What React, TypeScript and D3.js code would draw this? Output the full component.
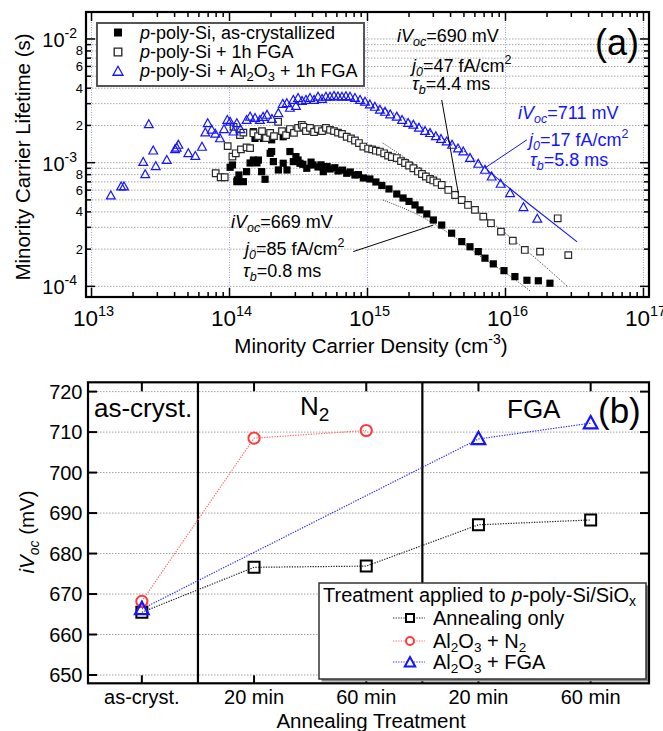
import React from "react";
import * as d3 from "d3";

const FONT = "'Liberation Sans', Arial, Helvetica, sans-serif";
const BLUE = "#1414ff";
const RED = "#ff3a3a";

// ---------- panel (a): lifetime vs minority carrier density ----------
const asCrystDensity = [
  1.01e14, 1.05e14, 1.13e14, 1.14e14, 1.17e14, 1.26e14, 1.33e14, 1.41e14, 1.49e14, 1.49e14,
  1.53e14, 1.58e14, 1.62e14, 1.71e14, 1.76e14, 1.81e14, 1.97e14, 2.02e14, 2.02e14, 2.08e14,
  2.26e14, 2.45e14, 2.45e14, 2.61e14, 2.74e14, 2.9e14, 3.03e14, 3.14e14, 3.24e14, 3.63e14,
  4.03e14, 4.38e14, 4.78e14, 5.35e14, 6.11e14, 7.07e14, 8.11e14, 9.33e14, 1.04e15, 1.15e15,
  1.27e15, 1.43e15, 1.63e15, 1.81e15, 2.0e15, 2.21e15, 2.4e15, 2.69e15, 3.0e15, 3.45e15,
  4.07e15, 4.82e15, 5.53e15, 6.35e15, 7.1e15, 8.16e15, 9.75e15, 1.17e16, 1.43e16, 1.73e16,
  2.1e16, 3.4e14, 3.9e14, 4.6e14, 5.1e14, 5.8e14, 6.6e14, 7.5e14, 8.6e14,
];
const asCrystLifetime = [
  9.18e-4, 9.58e-4, 7.02e-4, 7.25e-4, 7.95e-4, 7.02e-4, 8.46e-4, 9.94e-4, 1.05e-3, 1.78e-3,
  1.57e-3, 9.94e-4, 1.05e-3, 8.46e-4, 1.57e-3, 7.34e-4, 1.19e-3, 1.53e-3, 1.23e-3, 1.02e-3,
  8.73e-4, 1.62e-3, 9.89e-4, 8.73e-4, 1.23e-3, 1.02e-3, 1.12e-3, 1.05e-3, 9.89e-4, 9.01e-4,
  9.58e-4, 9.23e-4, 8.46e-4, 8.89e-4, 8.57e-4, 8.21e-4, 7.95e-4, 7.52e-4, 7.38e-4, 6.98e-4,
  6.54e-4, 6.13e-4, 5.58e-4, 5.18e-4, 4.86e-4, 4.55e-4, 4.15e-4, 3.85e-4, 3.44e-4, 3.13e-4,
  2.69e-4, 2.3e-4, 2.09e-4, 1.91e-4, 1.69e-4, 1.52e-4, 1.34e-4, 1.2e-4, 1.12e-4, 1.11e-4,
  1.06e-4, 9.7e-4, 1.01e-3, 9.6e-4, 9.3e-4, 9.1e-4, 8.7e-4, 8.4e-4, 8.0e-4,
];

const fgaDensity = [
  7.94e13, 8.63e13, 9.23e13, 9.7e13, 1.05e14, 1.07e14, 1.11e14, 1.19e14, 1.21e14, 1.33e14,
  1.41e14, 1.26e14, 1.49e14, 1.61e14, 1.72e14, 1.84e14, 1.97e14, 2.1e14, 2.25e14, 2.4e14,
  2.57e14, 2.74e14, 2.93e14, 3.14e14, 3.34e14, 3.43e14, 3.58e14, 3.83e14, 4.1e14, 4.38e14,
  4.68e14, 5.0e14, 5.35e14, 5.72e14, 6.11e14, 6.53e14, 7.07e14, 7.59e14, 8.11e14, 8.67e14,
  9.33e14, 1.01e15, 1.08e15, 1.15e15, 1.23e15, 1.32e15, 1.41e15, 1.5e15, 1.63e15, 1.75e15,
  1.87e15, 2.0e15, 2.15e15, 2.32e15, 2.48e15, 2.65e15, 2.84e15, 3.0e15, 3.19e15, 3.45e15,
  3.85e15, 4.31e15, 4.82e15, 5.35e15, 6.01e15, 6.9e15, 7.85e15, 9.27e15, 1.13e16, 1.38e16,
  1.78e16, 2.39e16, 2.85e16,
];
const fgaLifetime = [
  8.21e-4, 7.62e-4, 7.62e-4, 1.36e-3, 1.12e-3, 1.95e-3, 1.19e-3, 1.67e-3, 1.28e-3, 1.33e-3,
  1.31e-3, 1.75e-3, 1.73e-3, 1.64e-3, 1.8e-3, 1.58e-3, 1.74e-3, 1.64e-3, 2.14e-3, 1.8e-3,
  1.67e-3, 1.87e-3, 1.74e-3, 1.91e-3, 2.02e-3, 1.95e-3, 1.8e-3, 1.91e-3, 1.77e-3, 1.87e-3,
  1.8e-3, 1.91e-3, 1.84e-3, 1.8e-3, 1.75e-3, 1.71e-3, 1.62e-3, 1.57e-3, 1.51e-3, 1.44e-3,
  1.35e-3, 1.3e-3, 1.28e-3, 1.25e-3, 1.23e-3, 1.19e-3, 1.14e-3, 1.11e-3, 1.09e-3, 1.03e-3,
  9.94e-4, 9.49e-4, 9.01e-4, 8.49e-4, 8.1e-4, 7.73e-4, 7.38e-4, 7.18e-4, 6.92e-4, 6.6e-4,
  6.02e-4, 5.48e-4, 4.99e-4, 4.55e-4, 4.15e-4, 3.66e-4, 3.24e-4, 2.77e-4, 2.34e-4, 1.97e-4,
  1.91e-4, 3.55e-4, 1.79e-4,
];

const alDensity = [
  1.38e13, 1.64e13, 1.72e13, 2.37e13, 2.45e13, 2.6e13, 2.8e13, 2.92e13, 3.51e13, 4.03e13,
  4.14e13, 4.26e13, 5.03e13, 5.65e13, 6.32e13, 6.68e13, 6.95e13, 7.43e13, 7.89e13, 8.53e13,
  9.12e13, 9.64e13, 1.01e14, 1.07e14, 1.13e14, 1.2e14, 1.33e14, 1.41e14, 1.53e14, 1.66e14,
  1.75e14, 1.87e14, 2.03e14, 2.26e14, 2.43e14, 2.6e14, 2.74e14, 2.9e14, 3.03e14, 3.14e14,
  3.35e14, 3.58e14, 3.83e14, 4.1e14, 4.38e14, 4.68e14, 5.0e14, 5.35e14, 5.72e14, 6.11e14,
  6.53e14, 6.98e14, 7.47e14, 8.11e14, 8.83e14, 9.59e14, 1.04e15, 1.13e15, 1.23e15, 1.34e15,
  1.46e15, 1.63e15, 1.78e15, 1.97e15, 2.15e15, 2.36e15, 2.61e15, 2.84e15, 3.13e15, 3.41e15,
  3.75e15, 4.1e15, 4.53e15, 4.94e15, 5.53e15, 6.35e15, 7.1e15, 7.94e15, 9.23e15, 1.08e16,
  1.35e16, 1.7e16,
];
const alLifetime = [
  5.41e-4, 6.4e-4, 6.4e-4, 1.01e-3, 8.05e-4, 2.04e-3, 1.25e-3, 9.35e-4, 1.05e-3, 1.28e-3,
  1.32e-3, 1.39e-3, 1.19e-3, 1.13e-3, 1.34e-3, 1.75e-3, 2.08e-3, 1.84e-3, 1.71e-3, 1.57e-3,
  1.86e-3, 2.21e-3, 2.14e-3, 1.78e-3, 2.08e-3, 1.86e-3, 2.21e-3, 2.35e-3, 2.29e-3, 2.21e-3,
  2.34e-3, 2.43e-3, 2.25e-3, 2.51e-3, 2.98e-3, 3.02e-3, 2.77e-3, 3.21e-3, 2.87e-3, 3.32e-3,
  3.15e-3, 3.21e-3, 3.33e-3, 3.21e-3, 3.4e-3, 3.27e-3, 3.4e-3, 3.4e-3, 3.46e-3, 3.42e-3,
  3.4e-3, 3.44e-3, 3.4e-3, 3.33e-3, 3.21e-3, 3.1e-3, 2.95e-3, 2.82e-3, 2.67e-3, 2.57e-3,
  2.45e-3, 2.35e-3, 2.21e-3, 2.09e-3, 2.02e-3, 1.91e-3, 1.8e-3, 1.73e-3, 1.63e-3, 1.55e-3,
  1.48e-3, 1.39e-3, 1.3e-3, 1.23e-3, 1.09e-3, 9.76e-4, 8.73e-4, 7.7e-4, 6.73e-4, 5.66e-4,
  4.36e-4, 3.51e-4,
];

// fitted curves
const asCrystFitDensity = [1.29e15, 2.4e15, 3.96e15, 6.53e15, 1.08e16, 1.51e16];
const asCrystFitLifetime = [4.99e-4, 3.71e-4, 2.65e-4, 1.76e-4, 1.21e-4, 9.18e-5];
const fgaFitDensity = [1.29e15, 2.4e15, 4.68e15, 9.12e15, 1.78e16, 2.84e16];
const fgaFitLifetime = [1.44e-3, 9.06e-4, 5.19e-4, 2.91e-4, 1.57e-4, 9.89e-5];
const alFitDensity = [1.2e15, 2.0e15, 3.4e15, 5.1e15, 7.34e15, 1.51e16, 3.3e16];
const alFitLifetime = [2.85e-3, 2.2e-3, 1.6e-3, 1.22e-3, 8.73e-4, 4.55e-4, 2.29e-4];

// leader lines for the annotations [density, lifetime]
const leader690 = [[3.45e15, 3.21e-3], [4.55e15, 5.66e-4]];
const leader711 = [[1.43e16, 1.53e-3], [7.1e15, 9.06e-4]];
const leader669 = [[7.89e14, 1.91e-4], [3.0e15, 3.13e-4]];

const lifetimeMinorLabels = [2, 4, 6, 8];

// ---------- panel (b): iVoc vs treatment ----------
const treatments = ["as-cryst.", "20 min", "60 min", "20 min", "60 min"];
const annealingOnly = [665.5, 676.6, 676.9, 687.1, 688.3];
const al2o3N2 = [668.2, 708.5, 710.4, null, null];
const al2o3FGA = [666.3, null, null, 708.3, 712.2];
const mvTicks = [650, 660, 670, 680, 690, 700, 710, 720];

const sq = (x: number, y: number, s: number) => `M${x - s},${y - s}h${2 * s}v${2 * s}h${-2 * s}Z`;
const tri = (x: number, y: number, s: number) =>
  `M${x},${y - s * 1.05}L${x + s},${y + s * 0.75}L${x - s},${y + s * 0.75}Z`;

function IVoc({ x, y, val, fill }: any) {
  return (
    <text x={x} y={y} fontSize={18} fill={fill}>
      <tspan fontStyle="italic">iV</tspan>
      <tspan fontStyle="italic" fontSize={12.5} dy={4}>oc</tspan>
      <tspan dy={-4}>={val} mV</tspan>
    </text>
  );
}
function J0({ x, y, val, fill }: any) {
  return (
    <text x={x} y={y} fontSize={18} fill={fill}>
      <tspan fontStyle="italic">j</tspan>
      <tspan fontStyle="italic" fontSize={12.5} dy={4}>0</tspan>
      <tspan dy={-4}>={val} fA/cm</tspan>
      <tspan fontSize={12.5} dy={-8}>2</tspan>
    </text>
  );
}
function TauB({ x, y, val, fill }: any) {
  return (
    <text x={x} y={y} fontSize={18} fill={fill}>
      <tspan fontStyle="italic">τ</tspan>
      <tspan fontStyle="italic" fontSize={12.5} dy={4}>b</tspan>
      <tspan dy={-4}>={val} ms</tspan>
    </text>
  );
}

export default function App() {
  // panel (a) scales
  const xA = d3.scaleLog().domain([10 ** 12.96, 10 ** 17.04]).range([86, 649]);
  const yA = d3.scaleLog().domain([10 ** -4.086, 10 ** -1.782]).range([297, 12]);
  const isMajor = (v: number) => Math.abs(Math.log10(v) - Math.round(Math.log10(v))) < 1e-6;
  const lead = (v: number) => Math.round(v / 10 ** Math.floor(Math.log10(v) + 1e-9));
  const xTicks = xA.ticks();
  const yTicks = yA.ticks().filter((t) => t >= 0.99e-4 && t <= 1.01e-2);
  const lineA = d3
    .line<number[]>()
    .x((d) => xA(d[0]))
    .y((d) => yA(d[1]))
    .curve(d3.curveMonotoneX);
  const zip = (a: number[], b: number[]) => a.map((v, i) => [v, b[i]]);

  // panel (b) scales
  const xB = d3.scaleLinear().domain([-0.48, 4.52]).range([88, 649]);
  const yB = d3.scaleLinear().domain([647.95, 722.3]).range([683.3, 382.3]);
  const lineB = d3
    .line<[number, number]>()
    .x((d) => xB(d[0]))
    .y((d) => yB(d[1]));
  const pts = (arr: (number | null)[]) =>
    arr.map((v, i) => [i, v] as [number, number | null]).filter((d) => d[1] != null) as [number, number][];

  const left = 86, right = 649, top = 12, bottom = 297;
  const bl = 88, br = 649, bt = 382.3, bb = 683.3;

  return (
    <svg
      width={663}
      height={731}
      style={{ position: "absolute", left: 0, top: 0, background: "#fff" }}
      fontFamily={FONT}
    >
      <rect width={663} height={731} fill="#fff" />
      {/* ===== panel (a) ===== */}
      {yTicks.map((t, i) => (
        <line key={"hg" + i} x1={left} x2={right} y1={yA(t)} y2={yA(t)} stroke="#a8a8a8" strokeWidth={1} strokeDasharray="1.5,1.5" />
      ))}
      {xTicks.filter(isMajor).map((t, i) => (
        <line key={"vg" + i} x1={xA(t)} x2={xA(t)} y1={top} y2={bottom} stroke="#9c9cf0" strokeWidth={1} strokeDasharray="1,1.5" />
      ))}

      {/* fits */}
      <path d={lineA(zip(asCrystFitDensity, asCrystFitLifetime)) || ""} fill="none" stroke="#333" strokeWidth={1} strokeDasharray="1,1.3" />
      <path d={lineA(zip(fgaFitDensity, fgaFitLifetime)) || ""} fill="none" stroke="#333" strokeWidth={1} strokeDasharray="1,1.3" />
      <path d={lineA(zip(alFitDensity, alFitLifetime).filter((d) => d[0] <= 7.4e15)) || ""} fill="none" stroke={BLUE} strokeWidth={1} strokeDasharray="1,1.3" />
      <path d={lineA(zip(alFitDensity, alFitLifetime).filter((d) => d[0] >= 7.3e15)) || ""} fill="none" stroke={BLUE} strokeWidth={1.1} />

      {/* data */}
      {asCrystDensity.map((n, i) => (
        <path key={"f" + i} d={sq(xA(n), yA(asCrystLifetime[i]), 3.6)} fill="#000" />
      ))}
      {fgaDensity.map((n, i) => (
        <path key={"o" + i} d={sq(xA(n), yA(fgaLifetime[i]), 3.3)} fill="#fff" stroke="#2a2a2a" strokeWidth={1.2} />
      ))}
      {alDensity.map((n, i) => (
        <path key={"t" + i} d={tri(xA(n), yA(alLifetime[i]), 4.4)} fill="none" stroke={BLUE} strokeWidth={1.2} />
      ))}

      {/* leader lines */}
      <path d={`M${xA(leader690[0][0])},${yA(leader690[0][1])}L${xA(leader690[1][0])},${yA(leader690[1][1])}`} stroke="#000" strokeWidth={1} />
      <path d={`M${xA(leader711[0][0])},${yA(leader711[0][1])}L${xA(leader711[1][0])},${yA(leader711[1][1])}`} stroke={BLUE} strokeWidth={1} />
      <path d={`M${xA(leader669[0][0])},${yA(leader669[0][1])}L${xA(leader669[1][0])},${yA(leader669[1][1])}`} stroke="#000" strokeWidth={1} />

      {/* annotations */}
      <IVoc x={397} y={42} val={690} fill="#000" />
      <J0 x={412} y={72} val={47} fill="#000" />
      <TauB x={412} y={90} val={4.4} fill="#000" />
      <IVoc x={518} y={119} val={711} fill={BLUE} />
      <J0 x={529} y={146} val={17} fill={BLUE} />
      <TauB x={530} y={166} val={5.8} fill={BLUE} />
      <IVoc x={231} y={228} val={669} fill="#000" />
      <J0 x={245} y={255} val={85} fill="#000" />
      <TauB x={243} y={277} val={0.8} fill="#000" />
      <text x={595} y={55} fontSize={36}>(a)</text>

      {/* legend (a) */}
      <rect x={97} y={23} width={267} height={63} fill="#fff" stroke="#555" strokeWidth={2} />
      <path d={sq(118, 32.5, 4)} fill="#000" />
      <path d={sq(118, 52, 3.8)} fill="#fff" stroke="#222" strokeWidth={1.3} />
      <path d={tri(118, 71.5, 5)} fill="none" stroke={BLUE} strokeWidth={1.3} />
      <text x={140} y={38.5} fontSize={18}>
        <tspan fontStyle="italic">p</tspan>-poly-Si, as-crystallized
      </text>
      <text x={140} y={58} fontSize={18}>
        <tspan fontStyle="italic">p</tspan>-poly-Si + 1h FGA
      </text>
      <text x={140} y={77} fontSize={18}>
        <tspan fontStyle="italic">p</tspan>-poly-Si + Al<tspan fontSize={13} dy={4}>2</tspan>
        <tspan dy={-4}>O</tspan>
        <tspan fontSize={13} dy={4}>3</tspan>
        <tspan dy={-4}> + 1h FGA</tspan>
      </text>

      {/* ticks (a) */}
      {xTicks.map((t, i) => {
        const len = isMajor(t) ? 9 : 5;
        const x = xA(t);
        return (
          <g key={"xt" + i}>
            <line x1={x} x2={x} y1={bottom} y2={bottom - len} stroke="#000" strokeWidth={1.5} />
            <line x1={x} x2={x} y1={top} y2={top + len} stroke="#000" strokeWidth={1.5} />
          </g>
        );
      })}
      {yTicks.map((t, i) => {
        const len = isMajor(t) ? 9 : 5;
        const y = yA(t);
        return (
          <g key={"yt" + i}>
            <line x1={left} x2={left + len} y1={y} y2={y} stroke="#000" strokeWidth={1.5} />
            <line x1={right} x2={right - len} y1={y} y2={y} stroke="#000" strokeWidth={1.5} />
          </g>
        );
      })}
      <rect x={left} y={top} width={right - left} height={bottom - top} fill="none" stroke="#000" strokeWidth={2.2} />

      {xTicks.filter(isMajor).map((t, i) => (
        <text key={"xl" + i} x={xA(t) + 2} y={326} fontSize={22.5} textAnchor="middle">
          10<tspan fontSize={14.5} dy={-10}>{Math.round(Math.log10(t))}</tspan>
        </text>
      ))}
      {yTicks.filter(isMajor).map((t, i) => (
        <text key={"yl" + i} x={77} y={yA(t) + 8} fontSize={20} textAnchor="end">
          10<tspan fontSize={14} dy={-9}>{"-" + Math.abs(Math.round(Math.log10(t)))}</tspan>
        </text>
      ))}
      {yTicks.filter((t) => !isMajor(t) && lifetimeMinorLabels.includes(lead(t))).map((t, i) => (
        <text key={"ym" + i} x={83} y={yA(t) + 4.5} fontSize={13} textAnchor="end">
          {lead(t)}
        </text>
      ))}
      <text x={371} y={353} fontSize={20.5} textAnchor="middle">
        Minority Carrier Density (cm<tspan fontSize={14} dy={-9}>-3</tspan>
        <tspan dy={9}>)</tspan>
      </text>
      <text transform="translate(30,157) rotate(-90)" fontSize={20.5} textAnchor="middle">
        Minority Carrier Lifetime (s)
      </text>

      {/* ===== panel (b) ===== */}
      {mvTicks.map((t, i) => (
        <line key={"bg" + i} x1={bl} x2={br} y1={yB(t)} y2={yB(t)} stroke="#a0a0a0" strokeWidth={1} strokeDasharray="1.5,1.5" />
      ))}
      {[0.5, 2.5].map((s, i) => (
        <line key={"sep" + i} x1={xB(s)} x2={xB(s)} y1={bt} y2={bb} stroke="#000" strokeWidth={2.2} />
      ))}
      <text x={94} y={417} fontSize={26}>as-cryst.</text>
      <text x={300} y={415} fontSize={26}>
        N<tspan fontSize={19} dy={6}>2</tspan>
      </text>
      <text x={507} y={418} fontSize={26}>FGA</text>
      <text x={598} y={423} fontSize={35}>(b)</text>

      <path d={lineB(pts(annealingOnly)) || ""} fill="none" stroke="#222" strokeWidth={1.2} strokeDasharray="1.3,1.3" />
      <path d={lineB(pts(al2o3N2)) || ""} fill="none" stroke="#ff6a6a" strokeWidth={1.2} strokeDasharray="1.3,1.3" />
      <path d={lineB(pts(al2o3FGA)) || ""} fill="none" stroke="#2a2aff" strokeWidth={1.2} strokeDasharray="1.3,1.3" />
      {pts(annealingOnly).map((d, i) => (
        <path key={"bs" + i} d={sq(xB(d[0]), yB(d[1]), 5.5)} fill="none" stroke="#000" strokeWidth={2} />
      ))}
      {pts(al2o3N2).map((d, i) => (
        <circle key={"bc" + i} cx={xB(d[0])} cy={yB(d[1])} r={5.6} fill="none" stroke={RED} strokeWidth={2} />
      ))}
      {pts(al2o3FGA).map((d, i) => (
        <path key={"bt" + i} d={tri(xB(d[0]), yB(d[1]), 6.8)} fill="none" stroke={BLUE} strokeWidth={2.2} />
      ))}

      {/* ticks (b) */}
      {mvTicks.map((t, i) => (
        <g key={"byt" + i}>
          <line x1={bl} x2={bl + 9} y1={yB(t)} y2={yB(t)} stroke="#000" strokeWidth={2} />
          <line x1={br} x2={br - 9} y1={yB(t)} y2={yB(t)} stroke="#000" strokeWidth={2} />
          <text x={82.5} y={yB(t) + 7} fontSize={20} textAnchor="end">{t}</text>
        </g>
      ))}
      {treatments.map((c, i) => (
        <g key={"bxt" + i}>
          <line x1={xB(i)} x2={xB(i)} y1={bb} y2={bb - 8} stroke="#000" strokeWidth={2} />
          <line x1={xB(i)} x2={xB(i)} y1={bt} y2={bt + 9} stroke="#000" strokeWidth={2} />
          <text x={xB(i)} y={704} fontSize={20} textAnchor="middle">{c}</text>
        </g>
      ))}

      {/* legend (b) */}
      <rect x={321.5} y={585.5} width={327} height={96} fill="#888" />
      <rect x={319} y={583} width={327} height={96} fill="#fff" stroke="#333" strokeWidth={1.5} />
      <text x={323} y={601.5} fontSize={20}>
        Treatment applied to <tspan fontStyle="italic">p</tspan>-poly-Si/SiO
        <tspan fontSize={14} dy={4}>x</tspan>
      </text>
      <line x1={393} x2={425} y1={618} y2={618} stroke="#222" strokeWidth={1} strokeDasharray="1.3,1.3" />
      <path d={sq(410, 618, 4)} fill="#fff" stroke="#000" strokeWidth={2} />
      <text x={433} y={625} fontSize={20}>Annealing only</text>
      <line x1={393} x2={425} y1={641} y2={641} stroke="#ff6a6a" strokeWidth={1} strokeDasharray="1.3,1.3" />
      <circle cx={410} cy={641} r={4} fill="#fff" stroke={RED} strokeWidth={2} />
      <text x={433} y={647.5} fontSize={20}>
        Al<tspan fontSize={13.5} dy={4}>2</tspan>
        <tspan dy={-4}>O</tspan>
        <tspan fontSize={13.5} dy={4}>3</tspan>
        <tspan dy={-4}> + N</tspan>
        <tspan fontSize={13.5} dy={4}>2</tspan>
      </text>
      <line x1={393} x2={425} y1={662} y2={662} stroke="#2a2aff" strokeWidth={1} strokeDasharray="1.3,1.3" />
      <path d={tri(410, 662.5, 5.2)} fill="#fff" stroke={BLUE} strokeWidth={2} />
      <text x={433} y={669} fontSize={20}>
        Al<tspan fontSize={13.5} dy={4}>2</tspan>
        <tspan dy={-4}>O</tspan>
        <tspan fontSize={13.5} dy={4}>3</tspan>
        <tspan dy={-4}> + FGA</tspan>
      </text>

      <rect x={bl} y={bt} width={br - bl} height={bb - bt} fill="none" stroke="#000" strokeWidth={2.2} />
      <text x={371} y={728} fontSize={20.5} textAnchor="middle">Annealing Treatment</text>
      <text transform="translate(34,532) rotate(-90)" fontSize={20.5} textAnchor="middle">
        <tspan fontStyle="italic">iV</tspan>
        <tspan fontStyle="italic" fontSize={14} dy={5}>oc</tspan>
        <tspan dy={-5}> (mV)</tspan>
      </text>
    </svg>
  );
}
